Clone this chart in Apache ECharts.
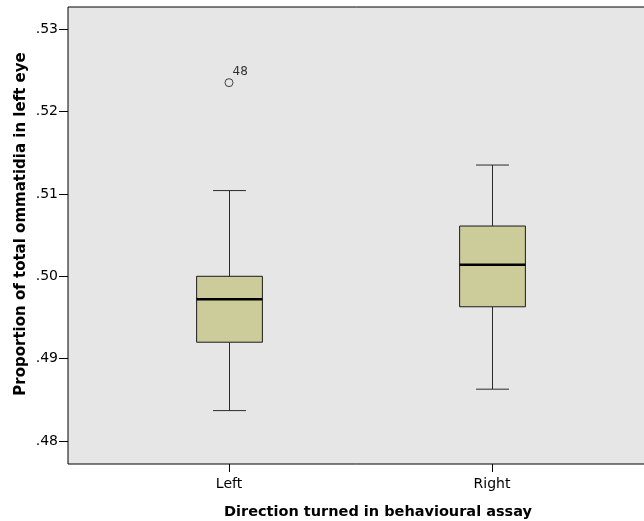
<!DOCTYPE html>
<html>
<head>
<meta charset="utf-8">
<script src="https://cdn.jsdelivr.net/npm/echarts@6/dist/echarts.min.js"></script>
<style>
  html, body { margin: 0; padding: 0; background: #ffffff; }
  #chart { width: 644px; height: 521px; }
</style>
</head>
<body>
<div id="chart"></div>
<script>
// ---- data ----
const categories = ['Left', 'Right'];
const lowWhisker = [0.4837, 0.4863];
const q1 = [0.4920, 0.4963];
const median = [0.4972, 0.5014];
const q3 = [0.5000, 0.5061];
const highWhisker = [0.5104, 0.5135];
const outlierCategory = ['Left'];
const outlierValue = [0.5235];
const outlierCase = ['48'];
const yMin = 0.47722;
const yMax = 0.53268;
const xTitle = 'Direction turned in behavioural assay';
const yTitle = 'Proportion of total ommatidia in left eye';

// ---- build ----
const boxData = categories.map((c, i) => [i, lowWhisker[i], q1[i], median[i], q3[i], highWhisker[i]]);
const outlierData = outlierCategory.map((c, i) => ({
  value: [categories.indexOf(c), outlierValue[i]],
  caseId: outlierCase[i]
}));

const fontFamily = 'DejaVu Sans';
const chart = echarts.init(document.getElementById('chart'), null, { renderer: 'canvas' });

function renderBox(params, api) {
  const x = api.value(0);
  const pLow = api.coord([x, api.value(1)]);
  const pQ1 = api.coord([x, api.value(2)]);
  const pMed = api.coord([x, api.value(3)]);
  const pQ3 = api.coord([x, api.value(4)]);
  const pHigh = api.coord([x, api.value(5)]);
  const band = api.size([1, 0])[0];
  const hw = band * 0.125;
  const cw = hw / 2;
  const cx = Math.round(pMed[0]) + 0.5;
  const lineStyle = { stroke: '#2a2a2a', lineWidth: 1 };
  return {
    type: 'group',
    children: [
      { type: 'line', shape: { x1: cx, y1: pQ3[1], x2: cx, y2: pHigh[1] }, style: lineStyle },
      { type: 'line', shape: { x1: cx, y1: pQ1[1], x2: cx, y2: pLow[1] }, style: lineStyle },
      { type: 'line', shape: { x1: cx - cw, y1: pHigh[1], x2: cx + cw, y2: pHigh[1] }, style: lineStyle },
      { type: 'line', shape: { x1: cx - cw, y1: pLow[1], x2: cx + cw, y2: pLow[1] }, style: lineStyle },
      { type: 'rect', shape: { x: cx - hw, y: pQ3[1], width: hw * 2, height: pQ1[1] - pQ3[1] },
        style: { fill: '#cccc9a', stroke: '#1a1a1a', lineWidth: 1 } },
      { type: 'line', shape: { x1: cx - hw, y1: pMed[1], x2: cx + hw, y2: pMed[1] },
        style: { stroke: '#000000', lineWidth: 2.5 } }
    ]
  };
}

const option = {
  backgroundColor: '#ffffff',
  animation: false,
  grid: [
    { left: 68, right: -5, top: 7, bottom: 57, show: true, backgroundColor: '#e6e6e6',
      borderColor: '#000000', borderWidth: 1, containLabel: false, outerBoundsMode: 'none' },
    { left: 97.5, right: 20.5, top: 7, bottom: 57, containLabel: false, outerBoundsMode: 'none' }
  ],
  xAxis: [
    { gridIndex: 0, type: 'value', min: 0, max: 1, show: false },
    { gridIndex: 1, type: 'category', data: categories, boundaryGap: true,
      axisLine: { show: false },
      axisTick: { show: true, alignWithLabel: true, length: 8, lineStyle: { color: '#000000' } },
      axisLabel: { color: '#000000', fontFamily: fontFamily, fontSize: 14, margin: 13 },
      splitLine: { show: false },
      name: xTitle, nameLocation: 'middle', nameGap: 41, nameMoveOverlap: false,
      nameTextStyle: { color: '#000000', fontFamily: fontFamily, fontSize: 14.5, fontWeight: 'bold',
        padding: [0, 0, 0, 35] }
    }
  ],
  yAxis: [
    { gridIndex: 0, type: 'value', min: yMin, max: yMax, splitNumber: 5,
      axisLine: { show: false },
      axisTick: { show: true, length: 9, lineStyle: { color: '#000000' } },
      axisLabel: { color: '#000000', fontFamily: fontFamily, fontSize: 14, margin: 10,
        showMinLabel: false, showMaxLabel: false,
        formatter: v => v.toFixed(2).replace(/^0/, '') },
      splitLine: { show: false },
      name: yTitle, nameLocation: 'middle', nameGap: 39, nameMoveOverlap: false,
      nameTextStyle: { color: '#000000', fontFamily: fontFamily, fontSize: 15, fontWeight: 'bold',
        padding: [0, 0, 0, 23] }
    },
    { gridIndex: 1, type: 'value', min: yMin, max: yMax, show: false }
  ],
  series: [
    {
      type: 'custom', xAxisIndex: 1, yAxisIndex: 1,
      renderItem: renderBox,
      encode: { x: 0, y: [1, 2, 3, 4, 5] },
      data: boxData,
      z: 3
    },
    {
      type: 'scatter', xAxisIndex: 1, yAxisIndex: 1,
      symbol: 'circle', symbolSize: 8,
      itemStyle: { color: 'rgba(0,0,0,0)', borderColor: '#1a1a1a', borderWidth: 1 },
      label: { show: true, position: [8, -12], color: '#000000', fontFamily: fontFamily, fontSize: 12,
        formatter: p => p.data.caseId },
      data: outlierData,
      z: 4
    }
  ]
};
chart.setOption(option);
</script>
</body>
</html>
